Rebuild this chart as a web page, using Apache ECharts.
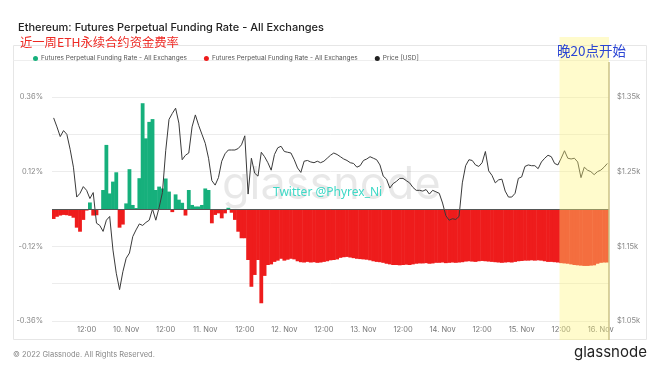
<!DOCTYPE html>
<html><head><meta charset="utf-8">
<script src="https://cdn.jsdelivr.net/npm/echarts@6/dist/echarts.min.js"></script>
<style>html,body{margin:0;padding:0;background:#fff}#c{width:660px;height:372px}</style>
</head><body><div id="c"></div>
<script>
// ---- data (hourly, starting 9 Nov 02:00 UTC) ----
const startDay = 9;
const startHour = 2;
const fundingRate = [
-0.032,-0.025,-0.021,-0.019,-0.020,-0.022,-0.028,-0.060,-0.073,-0.035,
-0.005,0.021,-0.021,-0.020,-0.003,0.061,0.206,0.050,0.088,0.118,
-0.060,-0.050,0.018,0.128,0.013,0.003,0.099,0.340,0.227,0.280,
0.289,0.061,0.072,0.066,0.098,0.056,-0.010,0.047,0.030,0.020,
-0.021,0.061,0.013,0.008,0.008,0.013,0.066,0.061,-0.046,-0.019,
-0.014,-0.030,-0.014,0.004,-0.012,-0.035,-0.073,-0.094,-0.094,-0.164,
-0.250,-0.212,-0.164,-0.303,-0.215,-0.180,-0.178,-0.170,-0.166,-0.160,
-0.166,-0.163,-0.160,-0.162,-0.168,-0.171,-0.172,-0.170,-0.172,-0.171,
-0.173,-0.172,-0.170,-0.168,-0.165,-0.164,-0.162,-0.157,-0.155,-0.154,
-0.156,-0.158,-0.160,-0.161,-0.162,-0.163,-0.165,-0.168,-0.170,-0.171,
-0.173,-0.176,-0.178,-0.180,-0.180,-0.181,-0.180,-0.179,-0.180,-0.178,
-0.176,-0.175,-0.175,-0.174,-0.176,-0.175,-0.173,-0.173,-0.172,-0.174,
-0.173,-0.172,-0.173,-0.172,-0.171,-0.169,-0.168,-0.169,-0.170,-0.168,
-0.167,-0.168,-0.169,-0.170,-0.171,-0.172,-0.173,-0.172,-0.171,-0.172,
-0.170,-0.168,-0.167,-0.166,-0.166,-0.165,-0.166,-0.165,-0.166,-0.168,
-0.170,-0.170,-0.171,-0.172,-0.174,-0.175,-0.176,-0.178,-0.180,-0.181,
-0.182,-0.183,-0.183,-0.182,-0.181,-0.176,-0.173,-0.172,-0.172
];
const priceUSD = [
1322,1310,1297,1305,1300,1280,1256,1216,1221,1230,
1225,1214,1222,1181,1178,1170,1185,1190,1145,1114,
1092,1116,1134,1141,1163,1172,1180,1178,1182,1185,
1200,1185,1202,1222,1278,1320,1328,1335,1315,1266,
1272,1275,1310,1326,1312,1300,1288,1268,1238,1232,
1242,1264,1274,1279,1279,1279,1281,1286,1298,1220,
1268,1248,1244,1276,1270,1262,1252,1273,1282,1284,
1277,1276,1275,1266,1255,1249,1264,1265,1263,1262,
1264,1262,1264,1268,1272,1275,1273,1270,1267,1265,
1262,1261,1256,1258,1265,1267,1270,1268,1266,1259,
1244,1240,1228,1234,1237,1241,1241,1238,1235,1229,
1225,1225,1224,1226,1220,1225,1223,1221,1208,1191,
1185,1187,1186,1190,1235,1258,1266,1265,1259,1257,
1262,1277,1251,1245,1235,1239,1240,1224,1216,1216,
1221,1241,1243,1257,1259,1258,1258,1254,1263,1268,
1272,1270,1261,1259,1268,1278,1268,1267,1268,1263,
1242,1256,1252,1250,1246,1250,1252,1256,1261
];
const leftTickLabels = [-0.36, -0.12, 0.12, 0.36];
const rightTickLabels = [1050, 1150, 1250, 1350];
const highlightStart = '15 Nov 12:00';
const seriesName = 'Futures Perpetual Funding Rate - All Exchanges';

// categories
const categories = [];
for (let k = 0; k < fundingRate.length; k++) {
  const t = startHour + k;
  const d = startDay + Math.floor(t / 24);
  const h = t % 24;
  categories.push(d + ' Nov ' + (h < 10 ? '0' : '') + h + ':00');
}
function catHour(c) { return parseInt(c.split(' ')[2], 10); }
function catLabel(c) {
  const p = c.split(' ');
  const h = parseInt(p[2], 10);
  if (h === 0) return p[0] + '. Nov';
  if (h === 12) return '12:00';
  return '';
}
const posVals = fundingRate.map(v => v >= 0 ? v : '-');
const negVals = fundingRate.map(v => v < 0 ? v : '-');

const GREEN = '#16b07c', RED = '#ee1c1c';
const chart = echarts.init(document.getElementById('c'), null, {renderer: 'canvas'});
const FONT = 'Inter, "Noto Sans", sans-serif';
const option = {
  animation: false,
  backgroundColor: '#ffffff',
  title: [
    {text: 'Ethereum: Futures Perpetual Funding Rate - All Exchanges', left: 13, top: 17,
     textStyle: {fontFamily: FONT, fontSize: 11, fontWeight: 500, color: '#222'}},
    {text: '近一周ETH永续合约资金费率', left: 15, top: 31,
     textStyle: {fontFamily: '"Noto Sans CJK SC"', fontSize: 12.3, fontWeight: 'normal', color: '#ee2a24'}}
  ],
  legend: {
    left: 28, top: 50, itemWidth: 5, itemHeight: 5, itemGap: 17, icon: 'circle',
    textStyle: {fontFamily: FONT, fontSize: 6.5, color: '#555', padding: [0,0,0,-2]},
    data: [
      {name: seriesName, itemStyle: {color: GREEN}},
      {name: seriesName + '\u200b', itemStyle: {color: RED}},
      {name: 'Price [USD]', itemStyle: {color: '#222'}}
    ]
  },
  grid: {left: 52, right: 51, top: 97, bottom: 51},
  xAxis: {
    type: 'category', data: categories, boundaryGap: true,
    axisLine: {show: false}, axisTick: {show: false}, splitLine: {show: false},
    axisLabel: {
      interval: (idx, val) => { const h = catHour(val); return h === 0 || h === 12; },
      formatter: v => catLabel(v), color: '#777', fontSize: 7.5, fontFamily: FONT, margin: 5
    }
  },
  yAxis: [
    {type: 'value', min: -0.36, max: 0.36, interval: 0.12, position: 'left',
     axisLine: {show: false}, axisTick: {show: false},
     splitLine: {lineStyle: {color: '#ececec', width: 1}},
     axisLabel: {color: '#888', fontSize: 7.5, fontFamily: FONT, margin: 9,
       formatter: v => { const m = leftTickLabels.find(t => Math.abs(t - v) < 1e-6); return m === undefined ? '' : m.toFixed(2) + '%'; }}},
    {type: 'value', min: 1050, max: 1350, interval: 50, position: 'right',
     axisLine: {show: false}, axisTick: {show: false}, splitLine: {show: false},
     axisLabel: {color: '#888', fontSize: 7.5, fontFamily: FONT, margin: 8,
       formatter: v => rightTickLabels.indexOf(v) >= 0 ? '$' + (v / 1000).toFixed(2) + 'k' : ''}}
  ],
  series: [
    {name: seriesName, type: 'bar', data: posVals, yAxisIndex: 0, barWidth: 3.8, barGap: '-100%',
     itemStyle: {color: GREEN}, z: 2},
    {name: seriesName + '\u200b', type: 'bar', data: negVals, yAxisIndex: 0, barWidth: 3.8, barGap: '-100%',
     itemStyle: {color: RED}, z: 2,
     markLine: {silent: true, symbol: 'none', label: {show: false},
       lineStyle: {color: '#555', width: 1, type: 'solid'}, data: [{yAxis: 0}]}},
    {name: 'Price [USD]', type: 'line', data: priceUSD, yAxisIndex: 1, showSymbol: false, symbol: 'none',
     lineStyle: {color: '#3a3a3a', width: 1}, itemStyle: {color: '#222'}, z: 4}
  ]
};
chart.setOption(option);

// overlay band located from the category axis
const idx0 = categories.indexOf(highlightStart);
const c0 = chart.convertToPixel({xAxisIndex: 0}, idx0);
const c1 = chart.convertToPixel({xAxisIndex: 0}, categories.length - 1);
const step = chart.convertToPixel({xAxisIndex: 0}, 1) - chart.convertToPixel({xAxisIndex: 0}, 0);
const bx0 = c0 - step / 2, bx1 = c1 + step / 2;

chart.setOption({
  graphic: [
    {id: 'panel', type: 'rect', z: 0, silent: true, shape: {x: 13.5, y: 45.5, width: 633, height: 294},
     style: {fill: 'none', stroke: '#e6e6e6', lineWidth: 1}},
    {id: 'legline', type: 'line', z: 0, silent: true, shape: {x1: 13.5, y1: 60.5, x2: 646.5, y2: 60.5},
     style: {stroke: '#eeeeee', lineWidth: 1}},
    {id: 'wm', type: 'text', z: 1, silent: true, left: 222, top: 163,
     style: {text: 'glassnode', font: '45px Inter, sans-serif', fill: 'rgba(0,0,0,0.09)'}},
    {id: 'tw', type: 'text', z: 5, silent: true, left: 273, top: 187,
     style: {text: 'Twitter @Phyrex_Ni', font: '12px "Noto Sans", sans-serif', fill: '#3ed8c6'}},
    {id: 'foot', type: 'text', z: 5, silent: true, left: 13, top: 351,
     style: {text: '\u00a9 2022 Glassnode. All Rights Reserved.', font: '7.5px Inter, sans-serif', fill: '#888'}},
    {id: 'logo', type: 'text', z: 5, silent: true, left: 574, top: 345,
     style: {text: 'glassnode', font: '15px Inter, sans-serif', fill: '#222'}},
    {id: 'band', type: 'rect', z: 100, silent: true,
     shape: {x: bx0, y: 37, width: bx1 - bx0, height: 303},
     style: {fill: 'rgba(255,245,120,0.38)'}},
    {id: 'bandline', type: 'line', z: 101, silent: true,
     shape: {x1: bx1, y1: 62, x2: bx1, y2: 340},
     style: {stroke: '#cbc287', lineWidth: 1.5}},
    {id: 'note', type: 'text', z: 102, silent: true, left: 557, top: 44,
     style: {text: '晚20点开始', font: '13.5px "Noto Sans CJK SC"', fill: '#2b45d4'}}
  ]
});
</script></body></html>
